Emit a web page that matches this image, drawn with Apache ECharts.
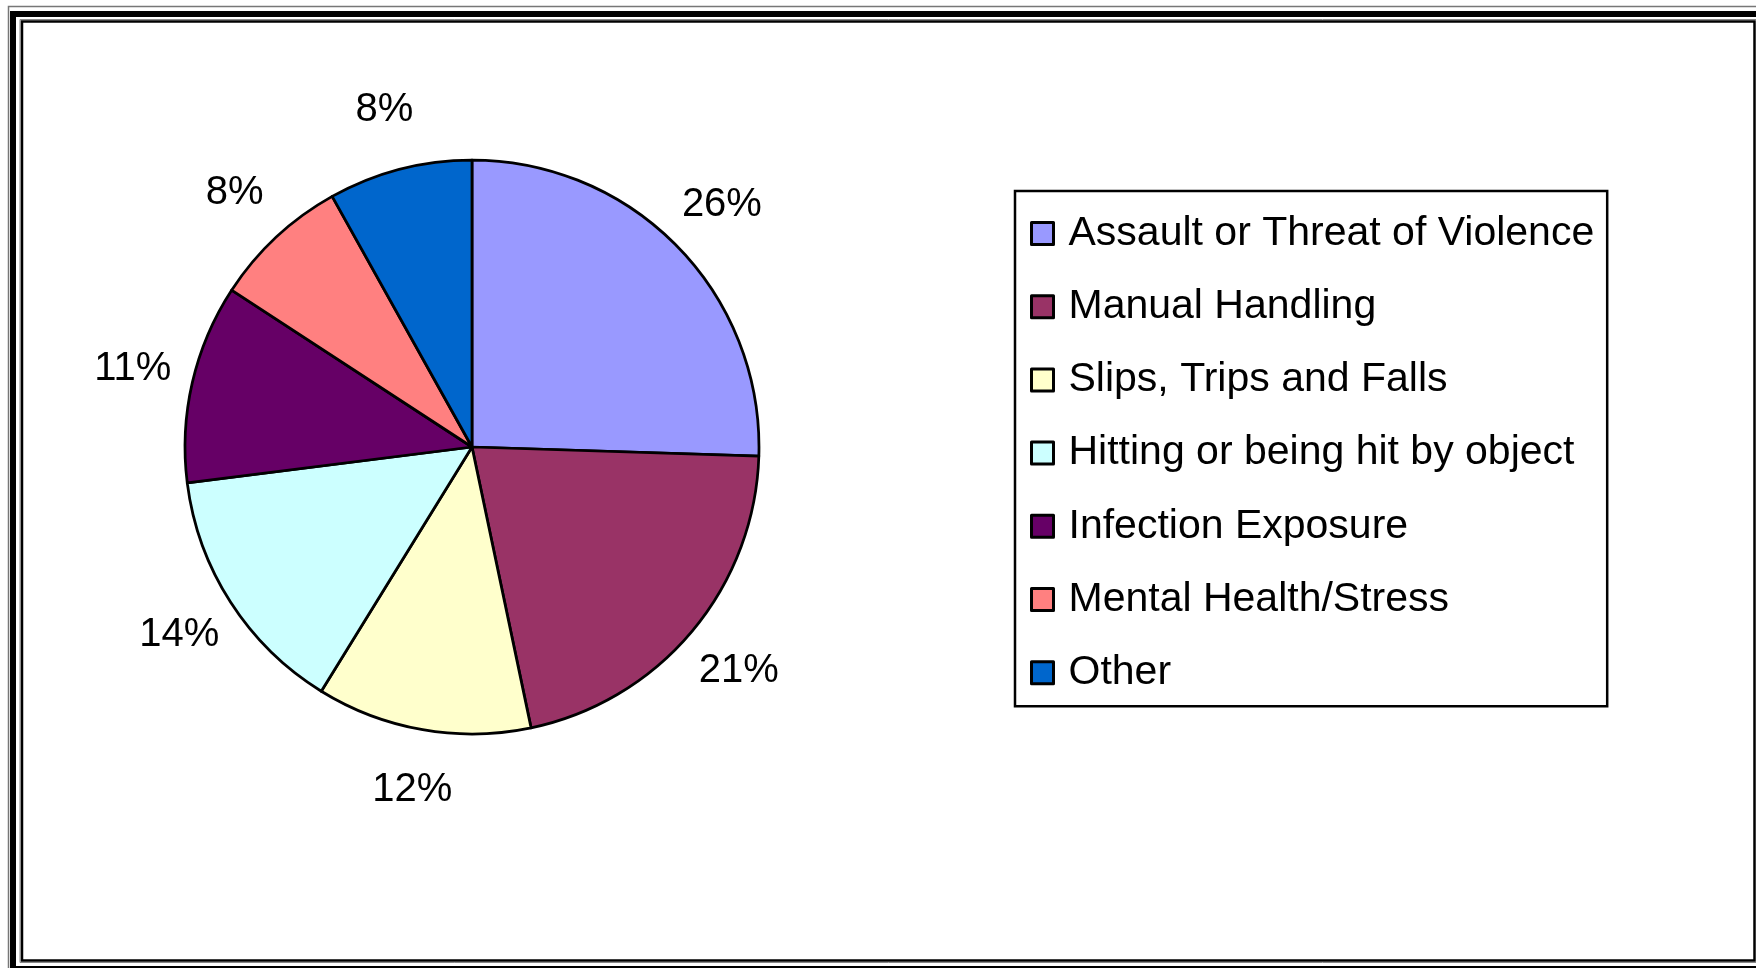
<!DOCTYPE html>
<html>
<head>
<meta charset="utf-8">
<script src="https://cdn.jsdelivr.net/npm/echarts@6/dist/echarts.min.js"></script>
<style>
html,body{margin:0;padding:0;background:#fff;}
#chart{width:1756px;height:968px;}
</style>
</head>
<body>
<div id="chart"></div>
<script>
const categories = ['Assault or Threat of Violence','Manual Handling','Slips, Trips and Falls','Hitting or being hit by object','Infection Exposure','Mental Health/Stress','Other'];
// shares (labels show them rounded)
const values = [25.5, 21.2, 12.1, 14.2, 11.2, 7.7, 8.1];
const colors = ['#9999FF','#993366','#FFFFCC','#CCFFFF','#660066','#FF8080','#0066CC'];

const pieData = categories.map((n, i) => ({name: n, value: values[i], itemStyle: {color: colors[i]}}));
const labelData = categories.map((n, i) => ({name: n, value: values[i]}));

const chart = echarts.init(document.getElementById('chart'), null, {renderer: 'canvas'});
const FONT = '"Liberation Sans", Arial, sans-serif';
chart.setOption({
  backgroundColor: '#ffffff',
  animation: false,
  graphic: [
    {type: 'rect', shape: {x: 8.5, y: 6.5, width: 1800, height: 1000}, style: {fill: null, stroke: '#777', lineWidth: 1.5}, silent: true},
    {type: 'rect', shape: {x: 13, y: 14, width: 1800, height: 955}, style: {fill: null, stroke: '#000', lineWidth: 6}, silent: true},
    {type: 'rect', shape: {x: 20, y: 19.5, width: 1736.5, height: 943}, style: {fill: null, stroke: '#888', lineWidth: 1}, silent: true},
    {type: 'rect', shape: {x: 22, y: 21.5, width: 1732.5, height: 939}, style: {fill: null, stroke: '#000', lineWidth: 2.5}, silent: true}
  ],
  legend: {
    orient: 'vertical',
    left: 1015,
    top: 191,
    data: categories,
    icon: 'rect',
    itemWidth: 22,
    itemHeight: 22,
    itemGap: 32.2,
    padding: [22, 13, 13, 15],
    borderColor: '#000',
    borderWidth: 2.5,
    backgroundColor: '#fff',
    itemStyle: {borderColor: '#000', borderWidth: 3},
    textStyle: {fontFamily: FONT, fontSize: 41, color: '#000', lineHeight: 40, padding: [0, 0, 0, 10]}
  },
  series: [
    {
      type: 'pie',
      center: [472, 447],
      radius: 287,
      startAngle: 90,
      clockwise: true,
      avoidLabelOverlap: false,
      data: pieData,
      itemStyle: {borderColor: '#000', borderWidth: 2.75},
      label: {show: false},
      labelLine: {show: false},
      emphasis: {disabled: true}
    },
    {
      type: 'pie',
      center: [472, 447],
      radius: [300, 390],
      startAngle: 90,
      clockwise: true,
      avoidLabelOverlap: false,
      silent: true,
      data: labelData,
      itemStyle: {color: 'rgba(0,0,0,0)', borderWidth: 0},
      label: {show: true, position: 'inside', formatter: p => Math.round(p.percent) + '%', fontFamily: FONT, fontSize: 40, color: '#000'},
      labelLine: {show: false},
      emphasis: {disabled: true}
    }
  ]
});
</script>
</body>
</html>
